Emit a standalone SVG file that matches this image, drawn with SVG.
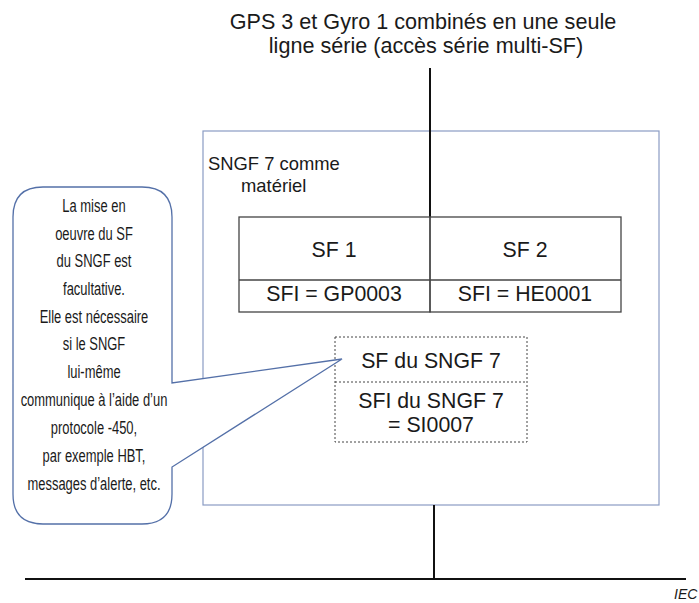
<svg xmlns="http://www.w3.org/2000/svg" width="699" height="603" viewBox="0 0 699 603">
<style>
.t{font-family:"Liberation Sans",Arial,sans-serif;fill:#1a1a1a}
.top{font-size:21.6px}
.big{font-size:21.3px}
.mid{font-size:18.4px}
.c{text-anchor:middle}
.n{font-family:"Liberation Sans",Arial,sans-serif;font-size:18.5px;fill:#1a1a1a;text-anchor:middle}
.wire{stroke:#111;stroke-width:2;fill:none}
.cell{stroke:#444;stroke-width:1.3;fill:none}
.dot{stroke:#444;stroke-width:1;stroke-dasharray:2,2;fill:none}
</style>
<rect width="699" height="603" fill="#fff"/>
<text class="t top c" x="423" y="29">GPS 3 et Gyro 1 combinés en une seule</text>
<text class="t top c" x="426" y="53">ligne série (accès série multi-SF)</text>

<g id="sngf7">
<rect x="203" y="131" width="456" height="374" fill="none" stroke="#8a9cc4" stroke-width="1.2"/>
<text class="t mid" x="208" y="170">SNGF 7 comme</text>
<text class="t mid" x="241" y="192">matériel</text>
</g>

<g id="connectors">
<line class="wire" x1="430" y1="68" x2="430" y2="217"/>
<line class="wire" x1="434" y1="505" x2="434" y2="579"/>
<line class="wire" x1="25" y1="579" x2="686" y2="579"/>
</g>

<g id="sf1">
<rect class="cell" x="239" y="217" width="191" height="95"/>
<line class="cell" x1="239" y1="280" x2="430" y2="280"/>
<text class="t big c" x="334" y="257">SF 1</text>
<text class="t big c" x="334" y="301">SFI = GP0003</text>
</g>
<g id="sf2">
<rect class="cell" x="430" y="217" width="191" height="95"/>
<line class="cell" x1="430" y1="280" x2="621" y2="280"/>
<text class="t big c" x="525" y="257">SF 2</text>
<text class="t big c" x="525" y="301">SFI = HE0001</text>
</g>

<g id="sf-sngf7">
<rect class="dot" x="335" y="337" width="192" height="105"/>
<line class="dot" x1="335" y1="382" x2="527" y2="382"/>
<text class="t big c" x="431" y="368">SF du SNGF 7</text>
<text class="t big c" x="431" y="408">SFI du SNGF 7</text>
<text class="t big c" x="431" y="432">= SI0007</text>
</g>

<g id="callout">
<path d="M43,187 L142,187 Q172,187 172,217 L172,383 L342,359 L172,467 L172,494 Q172,524 142,524 L43,524 Q13,524 13,494 L13,217 Q13,187 43,187 Z" fill="#fff" stroke="#5470a8" stroke-width="1.3"/>
<g transform="translate(94,0) scale(0.70,1)">
<text class="n" x="0" y="212">La mise en</text>
<text class="n" x="0" y="240">oeuvre du SF</text>
<text class="n" x="0" y="267">du SNGF est</text>
<text class="n" x="0" y="295">facultative.</text>
<text class="n" x="0" y="323">Elle est nécessaire</text>
<text class="n" x="0" y="350">si le SNGF</text>
<text class="n" x="0" y="378">lui-même</text>
<text class="n" x="0" y="406">communique à l’aide d’un</text>
<text class="n" x="0" y="434">protocole -450,</text>
<text class="n" x="0" y="462">par exemple HBT,</text>
<text class="n" x="0" y="490">messages d’alerte, etc.</text>
</g>
</g>

<text class="t" x="674" y="599" font-size="14" font-style="italic">IEC</text>
</svg>
